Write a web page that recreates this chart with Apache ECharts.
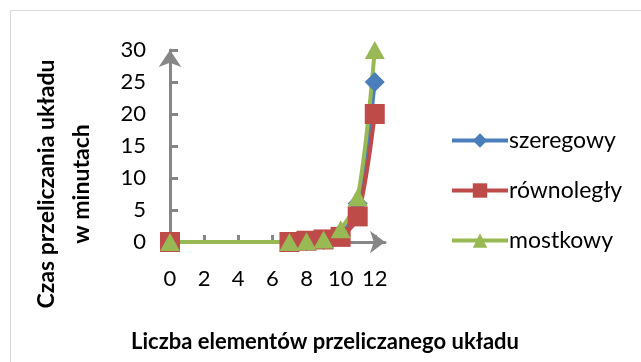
<!DOCTYPE html>
<html><head><meta charset="utf-8">
<script src="https://cdn.jsdelivr.net/npm/echarts@6/dist/echarts.min.js"></script>
<style>html,body{margin:0;padding:0;background:#fff}#c{width:641px;height:362px}</style>
</head><body><div id="c"></div>
<script>
const xValues = [0, 7, 8, 9, 10, 11, 12];
const szeregowy = [0, 0, 0.1, 0.3, 1, 6, 25];
const rownolegly = [0, 0, 0.2, 0.4, 0.8, 4, 20];
const mostkowy = [0, 0, 0.1, 0.4, 2, 7, 30];
const seriesNames = ['szeregowy', 'równoległy', 'mostkowy'];
const xTicks = [0, 2, 4, 6, 8, 10, 12];
const yTicks = [0, 5, 10, 15, 20, 25, 30];
const yTitle = ['Czas przeliczania układu', 'w minutach'];
const xTitle = 'Liczba elementów przeliczanego układu';

const FONT = 'Lato, "Liberation Sans", sans-serif';
const pair = arr => xValues.map((x, i) => [x, arr[i]]);
const chart = echarts.init(document.getElementById('c'), null, {renderer: 'canvas'});
const mk = (name, data, color, symbol, size) => ({
  name, type: 'line', data: pair(data), smooth: 0.3, clip: false,
  symbol, symbolSize: size, showAllSymbol: true,
  lineStyle: {color, width: 4}, itemStyle: {color, borderWidth: 0},
  emphasis: {disabled: true}
});
chart.setOption({
  animation: false,
  textStyle: {fontFamily: FONT},
  grid: {left: 170, top: 50, right: 256, bottom: 120, containLabel: false},
  xAxis: {
    type: 'value', min: 0, max: 12.6,
    axisLine: {show: true, lineStyle: {color: '#868686', width: 3}, symbol: ['none', 'arrow'], symbolSize: [17, 15]},
    axisTick: {show: true, inside: true, length: 7, lineStyle: {color: '#868686', width: 3}, customValues: xTicks},
    axisLabel: {color: '#000', fontSize: 22, margin: 26, fontFamily: FONT, customValues: xTicks},
    splitLine: {show: false}
  },
  yAxis: {
    type: 'value', min: 0, max: 30,
    axisLine: {show: true, lineStyle: {color: '#868686', width: 3}, symbol: ['none', 'arrow'], symbolSize: [17, 17]},
    axisTick: {show: true, inside: true, length: 8, lineStyle: {color: '#868686', width: 3}, customValues: yTicks},
    axisLabel: {color: '#000', fontSize: 22, margin: 24, fontFamily: FONT, customValues: yTicks},
    splitLine: {show: false}
  },
  legend: {
    orient: 'vertical', left: 445, top: 124, itemWidth: 56, itemHeight: 18, itemGap: 27,
    lineStyle: {width: 4},
    textStyle: {fontSize: 23, color: '#000', fontFamily: FONT, padding: [0, 0, 0, -4]},
    data: seriesNames
  },
  graphic: [
    {type: 'rect', shape: {x: 10.5, y: 10.5, width: 700, height: 400}, style: {fill: 'none', stroke: '#d9d9d9', lineWidth: 1}, z: -1, silent: true},
    {type: 'text', x: 47, y: 184, rotation: Math.PI / 2, style: {text: yTitle[0], font: 'bold 23px ' + FONT, fill: '#000', align: 'center', verticalAlign: 'middle'}},
    {type: 'text', x: 82, y: 184, rotation: Math.PI / 2, style: {text: yTitle[1], font: 'bold 23px ' + FONT, fill: '#000', align: 'center', verticalAlign: 'middle'}},
    {type: 'text', x: 325, y: 342, style: {text: xTitle, font: 'bold 22px ' + FONT, fill: '#000', align: 'center', verticalAlign: 'middle'}}
  ],
  series: [
    mk(seriesNames[0], szeregowy, '#4A7EBB', 'diamond', [20, 20]),
    mk(seriesNames[1], rownolegly, '#BE4B48', 'rect', [20, 20]),
    mk(seriesNames[2], mostkowy, '#98B954', 'triangle', [20, 18])
  ]
});
</script></body></html>
